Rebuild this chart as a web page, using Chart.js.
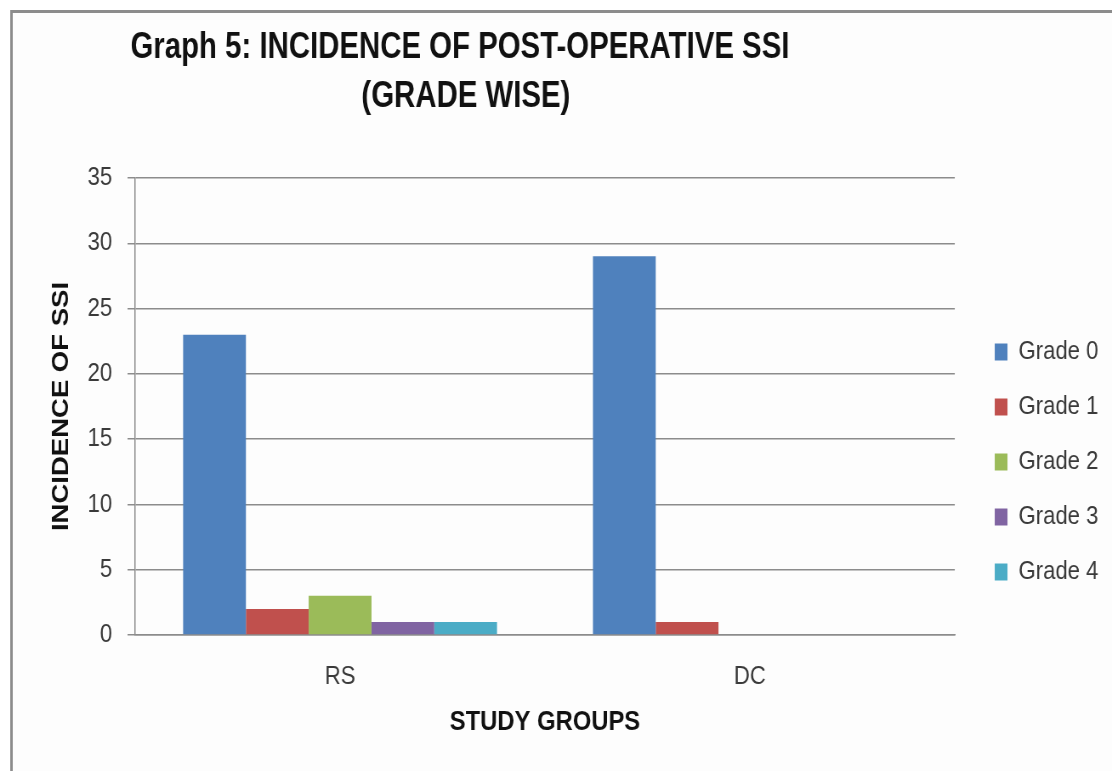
<!DOCTYPE html>
<html>
<head>
<meta charset="utf-8">
<title>Incidence of post-operative SSI (grade wise)</title>
<script src="https://cdn.jsdelivr.net/npm/chart.js@4/dist/chart.umd.min.js"></script>
<style>
  html, body { margin: 0; padding: 0; background: #ffffff; overflow: hidden; }
  #wrap { position: relative; width: 1112px; height: 771px; overflow: hidden; }
  /* drawing surface is wider than the box and squeezed horizontally,
     which gives the condensed lettering of the original figure */
  #c { width: 1112px; height: 771px; display: block; }
</style>
</head>
<body>
<div id="wrap"><canvas id="c" width="1308" height="771" style="width:1112px;height:771px"></canvas></div>
<script>
// Study groups and incidence counts per SSI grade
const groups = ['RS', 'DC'];
const gradeNames = ['Grade 0', 'Grade 1', 'Grade 2', 'Grade 3', 'Grade 4'];
const grade0 = [23, 29];
const grade1 = [2, 1];
const grade2 = [3, 0];
const grade3 = [1, 0];
const grade4 = [1, 0];
const gradeColors = ['#4F81BD', '#C0504D', '#9BBB59', '#8064A2', '#4BACC6'];
const yMin = 0, yMax = 35, yStep = 5;

const titleLines = ['Graph 5: INCIDENCE OF POST-OPERATIVE SSI', '(GRADE WISE)'];
const yTitle = 'INCIDENCE OF SSI';
const xTitle = 'STUDY GROUPS';

const FONT = '"Liberation Sans", Arial, sans-serif';

// Frame and two-line heading drawn on the canvas
const framePlugin = {
  id: 'frame',
  beforeDraw(chart) {
    const ctx = chart.ctx;
    ctx.save();
    ctx.fillStyle = '#ffffff';
    ctx.fillRect(0, 0, chart.width, chart.height);
    ctx.fillStyle = '#fdfdfd';
    ctx.fillRect(13, 11, chart.width - 13, chart.height - 11);
    ctx.strokeStyle = '#8c8c8c';
    ctx.lineWidth = 3;
    ctx.beginPath();
    ctx.moveTo(13.5, chart.height);
    ctx.lineTo(13.5, 11.5);
    ctx.lineTo(chart.width, 11.5);
    ctx.stroke();
    ctx.restore();
  },
  afterDraw(chart) {
    const ctx = chart.ctx;
    const squeeze = 0.96;
    ctx.save();
    ctx.scale(squeeze, 1);
    ctx.fillStyle = '#111111';
    ctx.font = 'bold 36px ' + FONT;
    ctx.textAlign = 'center';
    ctx.textBaseline = 'alphabetic';
    ctx.fillText(titleLines[0], 541 / squeeze, 58);
    ctx.fillText(titleLines[1], 548 / squeeze, 107);
    ctx.restore();
  }
};

const datasets = [grade0, grade1, grade2, grade3, grade4].map((vals, i) => ({
  label: gradeNames[i],
  data: vals,
  backgroundColor: gradeColors[i],
  borderWidth: 0,
  categoryPercentage: 0.766,
  barPercentage: 1.0
}));

new Chart(document.getElementById('c'), {
  type: 'bar',
  data: { labels: groups, datasets },
  plugins: [framePlugin],
  options: {
    responsive: false,
    animation: false,
    events: [],
    layout: { padding: { left: 51, top: 178, right: 6, bottom: 25 } },
    plugins: {
      title: { display: false },
      tooltip: { enabled: false },
      legend: {
        position: 'right',
        align: 'center',
        labels: {
          boxWidth: 15,
          boxHeight: 17,
          padding: 29,
          color: '#3a3a3a',
          font: { family: FONT, size: 26 }
        }
      }
    },
    scales: {
      x: {
        grid: { display: false, drawTicks: false },
        border: { display: true, color: '#8c8c8c', width: 1.5 },
        ticks: { color: '#3a3a3a', padding: 29, font: { family: FONT, size: 26, lineHeight: 1 } },
        title: {
          display: true,
          text: xTitle,
          color: '#111111',
          font: { family: FONT, size: 28, weight: 'bold' },
          padding: { top: -14, bottom: 7.4 }
        }
      },
      y: {
        min: yMin,
        max: yMax,
        ticks: { stepSize: yStep, color: '#3a3a3a', padding: 18, font: { family: FONT, size: 26 } },
        grid: { color: '#8c8c8c', lineWidth: 1.5, drawTicks: true, tickLength: 9 },
        border: { display: true, color: '#8c8c8c', width: 1.5 },
        title: {
          display: true,
          text: yTitle,
          color: '#111111',
          font: { family: FONT, size: 27.5, weight: 'bold' },
          padding: { top: 5, bottom: 0 }
        },
        afterFit(scale) { scale.width = 108; }
      },
      gap: {
        type: 'linear',
        position: 'right',
        display: true,
        grid: { display: false, drawTicks: false },
        border: { display: false },
        ticks: { display: false },
        afterFit(scale) { scale.width = 18; }
      }
    }
  }
});
</script>
</body>
</html>
